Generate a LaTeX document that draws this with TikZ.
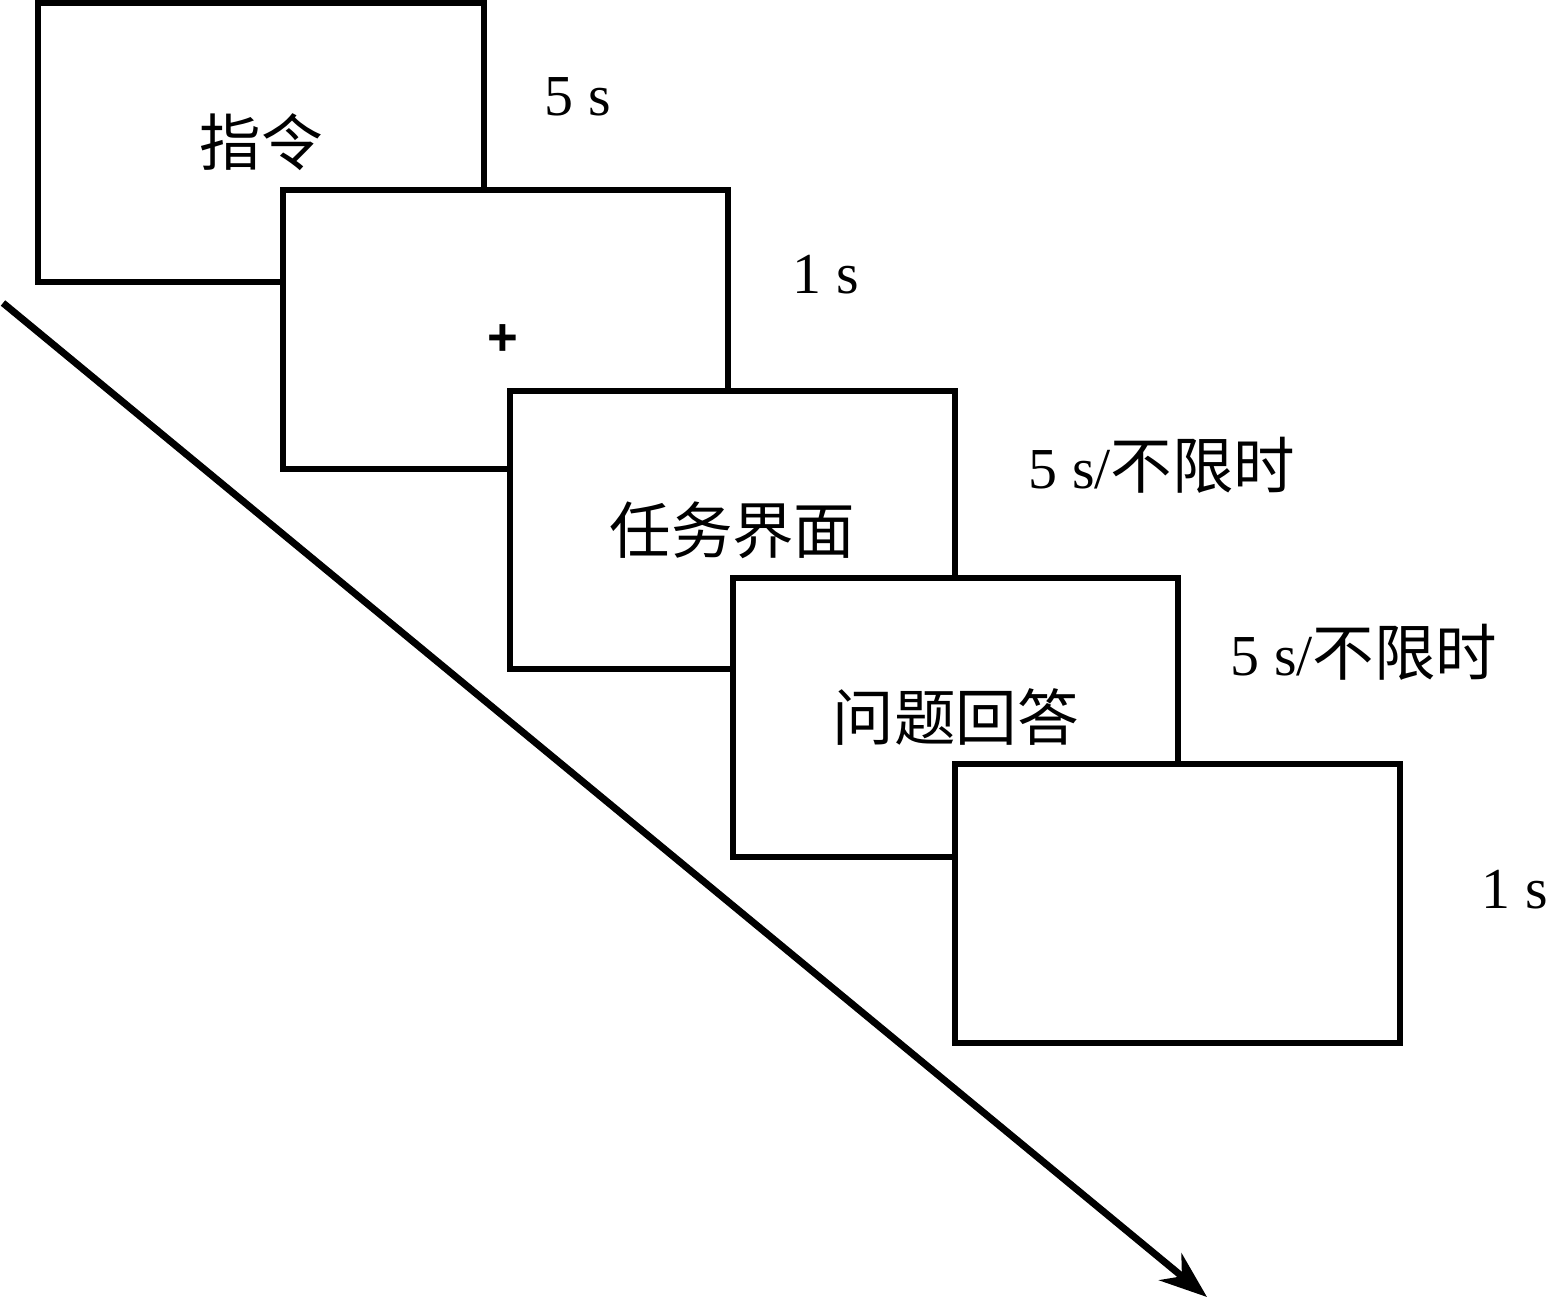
\documentclass[tikz,border=0pt]{standalone}
\usepackage{fontspec}
\setmainfont{Liberation Serif}
\setsansfont{Liberation Sans}
\newfontfamily\cjk{Noto Sans CJK SC}
\usetikzlibrary{arrows.meta}
\newcommand{\hanzi}[1]{{\fontsize{35}{40}\selectfont\cjk #1}}
\tikzset{
    screen/.style={draw, fill=white, line width=0.12cm, minimum width=8.92cm, minimum height=5.58cm, inner sep=0pt},
    dur/.style={font=\fontsize{33}{38}\selectfont, inner sep=0pt}
}
\begin{document}
\begin{tikzpicture}[x=0.02cm, y=-0.02cm]
        \useasboundingbox (0,0) rectangle (1552,1300);
        %% Time axis
        \coordinate (t0) at (3,303);
        \coordinate (t1) at (1207,1297);
        \draw[line width=0.14cm, -{Stealth[length=0.95cm, width=0.7cm, inset=0.3cm]}] (t0) -- (t1);
        %% Screens
        \node[screen] (instr) at (261,142.5) {\hanzi{指令}};
        \node[screen] (fix) at (505.5,329.5) {};
        \node[font=\fontsize{30}{36}\selectfont\sffamily\bfseries, inner sep=0pt] (cross) at (503,340) {+};
        \node[screen] (task) at (732.5,530) {\hanzi{任务界面}};
        \node[screen] (quest) at (955.5,717.5) {\hanzi{问题回答}};
        \node[screen] (blank) at (1177.5,903.5) {};
        %% Durations
        \node[dur] (d1) at (578,97) {5 s};
        \node[dur] (d2) at (826,275) {1 s};
        \node[dur] (d3) at (1162,465) {5 s/\hanzi{不限时}};
        \node[dur] (d4) at (1364,652) {5 s/\hanzi{不限时}};
        \node[dur] (d5) at (1515,890) {1 s};
    \end{tikzpicture}
\end{document}
